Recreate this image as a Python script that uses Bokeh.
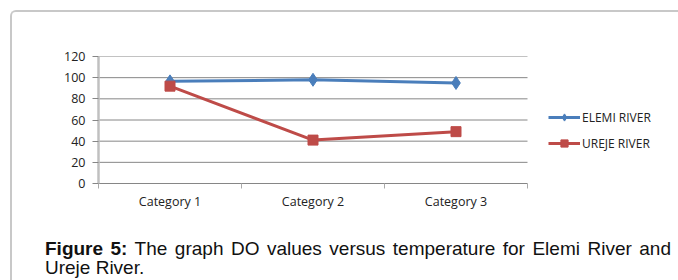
from bokeh.plotting import figure
from bokeh.models import Range1d, FixedTicker, Legend, LegendItem, Div
from bokeh.layouts import column
from bokeh.embed import file_html
from bokeh.resources import INLINE

categories = ["Category 1", "Category 2", "Category 3"]
elemi = [96.5, 98, 95]
ureje = [92, 41, 49]
y_ticks = [0, 20, 40, 60, 80, 100, 120]
series_names = ["ELEMI RIVER", "UREJE RIVER"]
caption_bold = "Figure 5:"
caption_line1 = "The graph DO values versus temperature for Elemi River and"
caption_line2 = "Ureje River."

BLUE = "#4a7ebb"
RED = "#be4b48"
GRID = "#868686"
TXT = "#222222"
BORDER = "#c8c8c8"

OX, OY = 12, 12                     # page origin of the framed content
W = 678 - OX
H1 = 226 - OY
H2 = 52
PLOT_L, PLOT_R = 98, 527            # page x of the category area
FRAME_W = W - (PLOT_L - OX)         # frame runs to the right edge (legend lives inside it)
N = len(categories)
X_END = N * FRAME_W / (PLOT_R - PLOT_L)

p = figure(width=W, height=H1, output_backend="svg", toolbar_location=None,
           x_range=Range1d(0, X_END), y_range=Range1d(y_ticks[0], y_ticks[-1]),
           min_border_left=PLOT_L - OX, min_border_right=0,
           min_border_top=56 - OY, min_border_bottom=H1 - (183 - OY))
p.outline_line_color = None
p.background_fill_color = "white"
p.border_fill_color = "white"

xs = [i + 0.5 for i in range(N)]

xa = p.xaxis[0]
xa.bounds = (0, N)
xa.ticker = FixedTicker(ticks=xs, minor_ticks=list(range(N + 1)))
xa.major_label_overrides = {x: c for x, c in zip(xs, categories)}
xa.major_tick_out = 0
xa.major_tick_in = 0
xa.minor_tick_out = 5
xa.minor_tick_in = 0
xa.minor_tick_line_color = "#aaaaaa"
xa.axis_line_color = GRID
xa.axis_line_width = 1
xa.major_label_text_font = "Open Sans"
xa.major_label_text_font_size = "12.5px"
xa.major_label_text_color = TXT
xa.major_label_standoff = 4

ya = p.yaxis[0]
ya.ticker = FixedTicker(ticks=y_ticks)
ya.major_tick_out = 6
ya.major_tick_in = 0
ya.minor_tick_out = 0
ya.minor_tick_in = 0
ya.major_tick_line_color = GRID
ya.axis_line_color = "#c0c0c0"
ya.axis_line_width = 2.5
ya.major_label_text_font = "Open Sans"
ya.major_label_text_font_size = "12.5px"
ya.major_label_text_color = TXT
ya.major_label_standoff = 7

p.xgrid.grid_line_color = None
p.ygrid.grid_line_color = None
# horizontal gridlines limited to the category area
grid_ticks = y_ticks[1:]
p.segment(x0=[0] * len(grid_ticks), x1=[N] * len(grid_ticks), y0=grid_ticks, y1=grid_ticks,
          line_color=GRID, line_width=1)

l1 = p.line(xs, elemi, line_color=BLUE, line_width=3)
m1 = p.scatter(xs, elemi, marker="diamond", size=13, fill_color=BLUE, line_color=BLUE)
l2 = p.line(xs, ureje, line_color=RED, line_width=3)
m2 = p.scatter(xs, ureje, marker="square", size=10, fill_color=RED, line_color=RED)

legend = Legend(items=[LegendItem(label=series_names[0], renderers=[l1, m1]),
                       LegendItem(label=series_names[1], renderers=[l2, m2])],
                location=(548 - PLOT_L, 31), padding=0, margin=0, spacing=8,
                glyph_width=32, glyph_height=18, label_standoff=2,
                border_line_color=None, background_fill_alpha=0,
                label_text_font="Open Sans", label_text_font_size="12px",
                label_text_color=TXT)
p.add_layout(legend, "center")

font = "font-family:'Liberation Sans', Arial, sans-serif; font-size:19px; line-height:19px; color:#111111;"
caption = Div(
    text=('<div style="margin-left:%dpx; width:626px; margin-top:8px; %s">'
          '<div style="text-align:justify; text-align-last:justify; white-space:normal;">'
          '<b>%s</b> %s</div><div>%s</div></div>')
         % (40 - OX, font, caption_bold, caption_line1, caption_line2),
    width=W, height=H2)

layout = column(p, caption, spacing=0,
                styles={"margin-left": "10px", "margin-top": "10px",
                        "border-left": "2px solid " + BORDER, "border-top": "2px solid " + BORDER,
                        "border-top-left-radius": "6px"})

open("out.html", "w").write(file_html(layout, INLINE))
